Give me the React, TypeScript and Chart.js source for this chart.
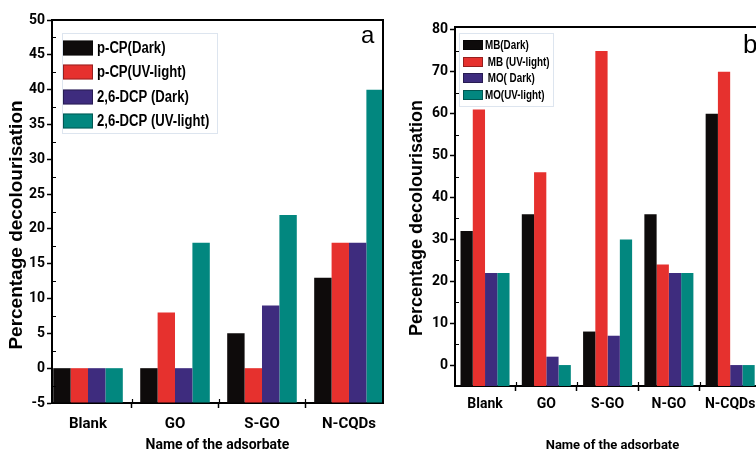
import React, { useEffect, useRef } from "react";
import { Chart, registerables } from "chart.js";

Chart.register(...registerables);

const TICKFONT = "Roboto, 'Liberation Sans', sans-serif";
const WIDE = "'Liberation Sans', Arial, sans-serif";
const COLORS = ["#0e0b0b", "#e6312e", "#3e2c7e", "#02877f"];

// ---- Panel a data ----
const categoriesA = ["Blank", "GO", "S-GO", "N-CQDs"];
const labelsA = ["p-CP(Dark)", "p-CP(UV-light)", "2,6-DCP (Dark)", "2,6-DCP (UV-light)"];
const pcpDark = [0, 0, 5, 13];
const pcpUV = [0, 8, 0, 18];
const dcpDark = [0, 0, 9, 18];
const dcpUV = [0, 18, 22, 40];
const yTicksA = [-5, 0, 5, 10, 15, 20, 25, 30, 35, 40, 45, 50];

// ---- Panel b data ----
const categoriesB = ["Blank", "GO", "S-GO", "N-GO", "N-CQDs"];
const labelsB = ["MB(Dark)", " MB (UV-light)", " MO( Dark)", "MO(UV-light)"];
const mbDark = [32, 36, 8, 36, 60];
const mbUV = [61, 46, 75, 24, 70];
const moDark = [22, 2, 7, 22, 0];
const moUV = [22, 0, 30, 22, 0];
const yTicksB = [0, 10, 20, 30, 40, 50, 60, 70, 80];

const yTitle = "Percentage decolourisation";
const xTitle = "Name of the adsorbate";

type Spec = {
  categories: string[];
  labels: string[];
  series: number[][];
  yTicks: number[];
  yMinor: number[];
  yMin: number;
  yMax: number;
  xMin: number;
  xMax: number;
  padding: { top: number; right: number; left: number; bottom: number };
  yWidth: number;
  xHeight: number;
  yTickFont: number;
  xTickFont: number;
  xTitleFont: number;
  xTickPad: number;
  yTitleFont: number;
  yTitlePos: [number, number];
  legend: {
    frame: [number, number, number, number];
    boxX: number;
    boxW: number;
    boxH: number;
    rows: number[];
    textX: number;
    font: number;
  };
  letter: { text: string; x: number; y: number; size: number };
};

const midpoints = (arr: number[]) => arr.slice(0, -1).map((v, i) => (v + arr[i + 1]) / 2);

const NARROW_SCALE = 0.82;

const decor = (spec: Spec) => ({
  id: "decor",
  afterDraw(chart: any) {
    const { ctx, chartArea: ca, scales } = chart;
    ctx.save();
    // frame (top and right)
    ctx.strokeStyle = "#000";
    ctx.lineWidth = 2;
    ctx.beginPath();
    ctx.moveTo(ca.left, ca.top);
    ctx.lineTo(ca.right, ca.top);
    ctx.lineTo(ca.right, ca.bottom);
    ctx.stroke();
    // minor ticks
    ctx.lineWidth = 1.2;
    ctx.beginPath();
    spec.yMinor.forEach((v) => {
      const y = Math.round(scales.y.getPixelForValue(v)) + 0.5;
      ctx.moveTo(ca.left, y);
      ctx.lineTo(ca.left + 4, y);
    });
    for (let i = 0; i < spec.categories.length - 1; i++) {
      const x = Math.round(scales.x.getPixelForValue(i + 0.5)) + 0.5;
      ctx.moveTo(x, ca.bottom);
      ctx.lineTo(x, ca.bottom - 4);
    }
    ctx.stroke();
    // y title
    ctx.fillStyle = "#000";
    ctx.font = `bold ${spec.yTitleFont}px ${WIDE}`;
    ctx.textAlign = "center";
    ctx.textBaseline = "middle";
    ctx.translate(spec.yTitlePos[0], spec.yTitlePos[1]);
    ctx.rotate(-Math.PI / 2);
    ctx.fillText(yTitle, 0, 0);
    ctx.restore();

    // legend
    ctx.save();
    const L = spec.legend;
    const [fx, fy, fw, fh] = L.frame;
    ctx.strokeStyle = "#dde5ef";
    ctx.lineWidth = 1;
    ctx.strokeRect(fx + 0.5, fy + 0.5, fw, fh);
    chart.data.datasets.forEach((ds: any, k: number) => {
      const cy = L.rows[k];
      ctx.fillStyle = ds.backgroundColor;
      ctx.fillRect(L.boxX, cy - L.boxH / 2, L.boxW, L.boxH);
      ctx.strokeStyle = "rgba(0,0,0,0.35)";
      ctx.strokeRect(L.boxX + 0.5, cy - L.boxH / 2 + 0.5, L.boxW - 1, L.boxH - 1);
      ctx.save();
      ctx.fillStyle = "#000";
      ctx.font = `bold ${L.font}px ${WIDE}`;
      ctx.textAlign = "left";
      ctx.textBaseline = "middle";
      ctx.translate(L.textX, cy + 1);
      ctx.scale(NARROW_SCALE, 1);
      ctx.fillText(ds.label, 0, 0);
      ctx.restore();
    });
    // panel letter
    ctx.fillStyle = "#000";
    ctx.font = `${spec.letter.size}px ${WIDE}`;
    ctx.textAlign = "left";
    ctx.textBaseline = "middle";
    ctx.fillText(spec.letter.text, spec.letter.x, spec.letter.y);
    ctx.restore();
  },
});

const buildConfig = (spec: Spec): any => ({
  type: "bar",
  data: {
    datasets: spec.series.map((vals, k) => ({
      label: spec.labels[k],
      data: vals.map((v, i) => ({ x: i, y: v })),
      backgroundColor: COLORS[k],
      borderWidth: 0,
      base: spec.yMin,
      categoryPercentage: 0.8,
      barPercentage: 1,
    })),
  },
  options: {
    responsive: false,
    animation: false,
    devicePixelRatio: 1,
    layout: { padding: spec.padding },
    plugins: { legend: { display: false }, tooltip: { enabled: false } },
    scales: {
      x: {
        type: "linear",
        min: spec.xMin,
        max: spec.xMax,
        offset: false,
        afterBuildTicks: (s: any) => {
          s.ticks = spec.categories.map((_, i) => ({ value: i }));
        },
        afterFit: (s: any) => {
          s.height = spec.xHeight;
        },
        ticks: {
          autoSkip: false,
          maxRotation: 0,
          minRotation: 0,
          color: "#000",
          padding: spec.xTickPad,
          font: { family: TICKFONT, size: spec.xTickFont, weight: "bold" },
          callback: (v: number) => spec.categories[v] ?? "",
        },
        grid: { drawOnChartArea: false, tickLength: 5, tickColor: "#000", tickWidth: 1.5 },
        border: { color: "#000", width: 2 },
        title: {
          display: true,
          text: xTitle,
          color: "#000",
          font: { family: TICKFONT, size: spec.xTitleFont, weight: "bold" },
          padding: { top: 0, bottom: 0 },
        },
      },
      y: {
        min: spec.yMin,
        max: spec.yMax,
        afterBuildTicks: (s: any) => {
          s.ticks = spec.yTicks.map((v) => ({ value: v }));
        },
        afterFit: (s: any) => {
          s.width = spec.yWidth;
        },
        ticks: {
          color: "#000",
          padding: 2,
          font: { family: TICKFONT, size: spec.yTickFont, weight: "bold" },
        },
        grid: { drawOnChartArea: false, tickLength: 5, tickColor: "#000", tickWidth: 1.5 },
        border: { color: "#000", width: 2 },
      },
    },
  },
  plugins: [decor(spec)],
});

// Panel a: canvas at page x=0
const specA: Spec = {
  categories: categoriesA,
  labels: labelsA,
  series: [pcpDark, pcpUV, dcpDark, dcpUV],
  yTicks: yTicksA,
  yMinor: midpoints(yTicksA),
  yMin: -5,
  yMax: 50,
  xMin: -0.414,
  xMax: 3.391,
  padding: { top: 20, right: 12, left: 0, bottom: 0 },
  yWidth: 52,
  xHeight: 51,
  yTickFont: 14,
  xTickFont: 15,
  xTitleFont: 14,
  xTickPad: 7,
  yTitleFont: 19,
  yTitlePos: [17, 225],
  legend: {
    frame: [62, 33, 155, 100],
    boxX: 63,
    boxW: 30,
    boxH: 15,
    rows: [48, 72, 97, 121],
    textX: 97,
    font: 16,
  },
  letter: { text: "a", x: 361, y: 36, size: 24 },
};

// Panel b: canvas at page x=400
const specB: Spec = {
  categories: categoriesB,
  labels: labelsB,
  series: [mbDark, mbUV, moDark, moUV],
  yTicks: yTicksB,
  yMinor: midpoints(yTicksB),
  yMin: -5,
  yMax: 80.7,
  xMin: -0.49,
  xMax: 4.65,
  padding: { top: 27, right: 10, left: 0, bottom: 0 },
  yWidth: 55,
  xHeight: 68,
  yTickFont: 14,
  xTickFont: 14,
  xTitleFont: 13,
  xTickPad: 5,
  yTitleFont: 18,
  yTitlePos: [17, 218],
  legend: {
    frame: [59, 33, 94, 73],
    boxX: 63,
    boxW: 20,
    boxH: 10,
    rows: [45, 62, 78, 95],
    textX: 85,
    font: 12,
  },
  letter: { text: "b", x: 343, y: 46, size: 26 },
};

function Panel({ spec, left, width }: { spec: Spec; left: number; width: number }) {
  const ref = useRef<HTMLCanvasElement>(null);
  useEffect(() => {
    const chart = new Chart(ref.current as HTMLCanvasElement, buildConfig(spec));
    return () => chart.destroy();
  }, []);
  return (
    <canvas
      ref={ref}
      width={width}
      height={454}
      style={{ position: "absolute", left, top: 0, width, height: 454 }}
    />
  );
}

export default function App() {
  return (
    <div
      style={{
        position: "fixed",
        left: 0,
        top: 0,
        width: 756,
        height: 454,
        overflow: "hidden",
        background: "#fff",
      }}
    >
      <Panel spec={specA} left={0} width={395} />
      <Panel spec={specB} left={400} width={380} />
    </div>
  );
}
